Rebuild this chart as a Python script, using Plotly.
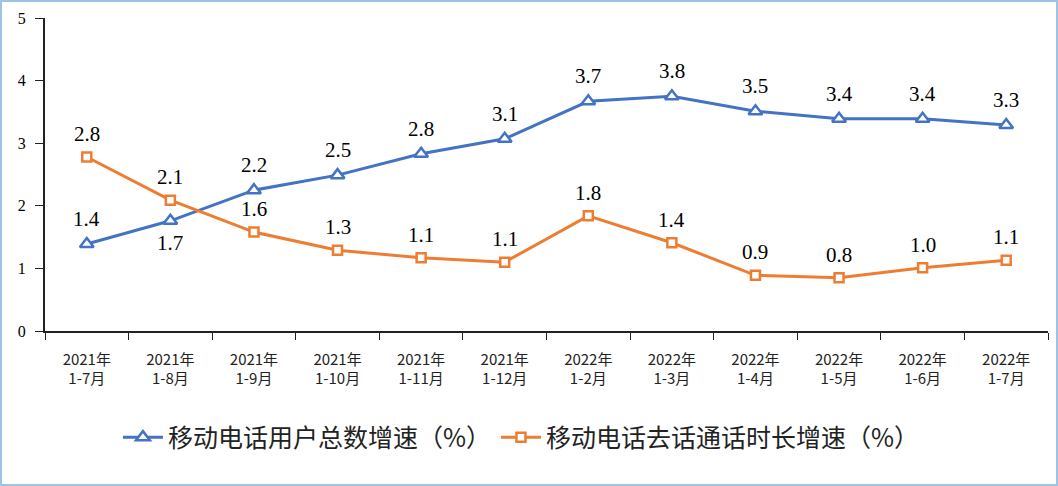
import plotly.graph_objects as go

categories = ["2021年<br>1-7月", "2021年<br>1-8月", "2021年<br>1-9月", "2021年<br>1-10月",
              "2021年<br>1-11月", "2021年<br>1-12月", "2022年<br>1-2月", "2022年<br>1-3月",
              "2022年<br>1-4月", "2022年<br>1-5月", "2022年<br>1-6月", "2022年<br>1-7月"]
users_growth = [1.39, 1.76, 2.25, 2.49, 2.83, 3.07, 3.67, 3.75, 3.51, 3.39, 3.39, 3.29]
users_labels = ["1.4", "1.7", "2.2", "2.5", "2.8", "3.1", "3.7", "3.8", "3.5", "3.4", "3.4", "3.3"]
calls_growth = [2.78, 2.09, 1.58, 1.29, 1.17, 1.10, 1.84, 1.41, 0.89, 0.85, 1.01, 1.13]
calls_labels = ["2.8", "2.1", "1.6", "1.3", "1.1", "1.1", "1.8", "1.4", "0.9", "0.8", "1.0", "1.1"]
users_name = "移动电话用户总数增速（%）"
calls_name = "移动电话去话通话时长增速（%）"
y_ticks = [0, 1, 2, 3, 4, 5]

BLUE = "#4472C4"
ORANGE = "#ED7D31"

fig = go.Figure()
fig.add_trace(go.Scatter(
    x=categories, y=users_growth, name=users_name, mode="lines+markers",
    line=dict(color=BLUE, width=3),
    marker=dict(symbol="triangle-up", size=12, color="white", line=dict(color=BLUE, width=2.5)),
))
fig.add_trace(go.Scatter(
    x=categories, y=calls_growth, name=calls_name, mode="lines+markers",
    line=dict(color=ORANGE, width=3),
    marker=dict(symbol="square", size=9, color="white", line=dict(color=ORANGE, width=2.5)),
))

label_font = dict(family="Liberation Serif, Times New Roman, serif", size=21, color="black")
for i, (c, v, t) in enumerate(zip(categories, users_growth, users_labels)):
    shift = -22 if i == 1 else 25
    fig.add_annotation(x=c, y=v, text=t, showarrow=False, yanchor="middle", yshift=shift, font=label_font)
for c, v, t in zip(categories, calls_growth, calls_labels):
    fig.add_annotation(x=c, y=v, text=t, showarrow=False, yanchor="middle", yshift=23, font=label_font)

# outer light-blue border
pw, ph = 1003.0, 313.0
fig.add_shape(type="rect", xref="paper", yref="paper",
              x0=(1 - 45) / pw, x1=(1057 - 45) / pw, y0=(331 - 485) / ph, y1=(331 - 1) / ph,
              line=dict(color="#9DC3E6", width=2), fillcolor="rgba(0,0,0,0)", layer="below")

fig.update_layout(
    width=1058, height=486,
    margin=dict(l=45, r=10, t=18, b=155, autoexpand=False),
    paper_bgcolor="white", plot_bgcolor="white",
    showlegend=True,
    legend=dict(orientation="h", x=0.475, xanchor="center", y=-0.34, yanchor="middle",
                font=dict(family="Noto Sans CJK SC", size=25, color="#222"),
                itemwidth=40, tracegroupgap=0),
    xaxis=dict(type="category", showline=True, linecolor="#222", linewidth=1.5,
               ticks="outside", tickson="boundaries", ticklen=7, tickcolor="#222",
               ticklabelstandoff=14,
               tickfont=dict(family="Noto Sans CJK SC", size=15, color="#222"),
               showgrid=False, zeroline=False, range=[-0.5, 11.5]),
    yaxis=dict(range=[0, 5], tickvals=y_ticks, showline=True, linecolor="#222", linewidth=2,
               ticks="outside", ticklen=8, tickcolor="#222", ticklabelstandoff=6,
               tickfont=dict(family="Liberation Serif, Times New Roman, serif", size=16, color="black"),
               showgrid=False, zeroline=False),
)

fig.write_html("out.html", config={"displayModeBar": False},
               post_script="document.body.style.margin='0px';document.body.style.overflow='hidden';")
